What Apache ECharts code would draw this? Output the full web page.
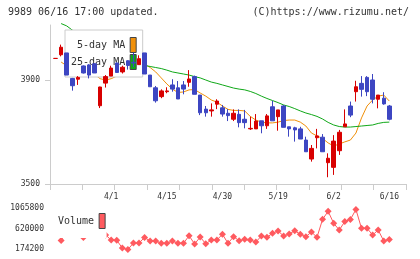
<!DOCTYPE html>
<html>
<head>
<meta charset="utf-8">
<script src="https://cdn.jsdelivr.net/npm/echarts@6/dist/echarts.min.js"></script>
<style>
html, body { margin: 0; padding: 0; background: #fff; }
#chart { width: 420px; height: 259px; }
</style>
</head>
<body>
<div id="chart"></div>
<script>
// trading days shown (3/17 .. 6/16)
var dates = ['3/17','3/18','3/19','3/21','3/24','3/25','3/26','3/27','3/28','3/31',
    '4/1','4/2','4/3','4/4','4/7','4/8','4/9','4/10','4/11','4/14',
    '4/15','4/16','4/17','4/18','4/21','4/22','4/23','4/24','4/25','4/28',
    '4/30','5/1','5/7','5/8','5/9','5/12','5/13','5/14','5/15','5/16',
    '5/19','5/20','5/21','5/22','5/23','5/26','5/27','5/28','5/29','5/30',
    '6/2','6/3','6/4','6/5','6/6','6/9','6/10','6/11','6/12','6/13','6/16'];
var labelDates = ['4/1','4/15','4/30','5/19','6/2','6/16'];

var open  = [3983,3997,4004,3906,3903,3954,3958,3962,3801,3888,
    3915,3965,3931,3974,3968,3959,4004,3919,3870,3836,
    3855,3881,3870,3881,3891,3913,3842,3788,3781,3807,
    3793,3772,3749,3768,3749,3712,3712,3743,3724,3797,
    3759,3800,3720,3716,3712,3669,3596,3678,3680,3582,
    3564,3628,3720,3800,3855,3887,3910,3900,3826,3830,3800];
var close = [3983,4026,3919,3878,3910,3927,3919,3927,3873,3913,
    3946,3929,3949,3956,3965,3982,3923,3874,3820,3858,
    3858,3865,3827,3865,3904,3845,3774,3774,3785,3819,
    3769,3763,3772,3736,3736,3714,3742,3724,3762,3743,
    3785,3718,3712,3708,3673,3624,3637,3685,3624,3599,
    3665,3699,3731,3765,3874,3864,3855,3826,3842,3808,3749];
var low   = [3983,3991,3919,3859,3881,3925,3906,3927,3792,3871,
    3915,3929,3925,3940,3950,3959,3923,3874,3813,3830,
    3849,3855,3827,3845,3874,3845,3765,3759,3759,3788,
    3759,3742,3742,3718,3714,3708,3712,3695,3712,3743,
    3705,3718,3682,3663,3673,3624,3586,3637,3624,3526,
    3535,3612,3720,3757,3817,3836,3838,3810,3791,3805,3745];
var high  = [3983,4036,4004,3908,3915,3956,3961,3965,3874,3919,
    3955,3968,3955,3976,4005,3995,4004,3919,3877,3864,
    3872,3903,3896,3896,3938,3917,3842,3800,3810,3826,
    3804,3788,3787,3787,3785,3759,3769,3743,3769,3820,
    3785,3804,3720,3720,3720,3682,3650,3712,3692,3618,
    3688,3708,3787,3817,3897,3915,3915,3923,3842,3853,3804];

// moving averages ('-' = not drawn)
var ma5 = ['-',3969,3955,3945,3935,3925,3920,3922,3905,3900,
    3905,3915,3925,3935,3945,3955,3961,3948,3931,3908,
    3885,3865,3852,3854,3862,3863,3850,3838,3823,3815,
    3800,3787,3783,3783,3781,3760,3746,3738,3735,3735,
    3738,3744,3746,3746,3738,3723,3696,3685,3675,3658,
    3646,3654,3662,3669,3696,3754,3800,3823,3838,3842,3819];
var ma25 = ['-',4117,4108,4092,4082,4072,4061,4050,4040,4030,
    4020,4010,3999,3988,3977,3966,3956,3952,3948,3944,
    3938,3931,3927,3923,3919,3913,3908,3900,3892,3887,
    3881,3875,3869,3865,3862,3856,3848,3838,3829,3821,
    3813,3804,3798,3790,3781,3773,3767,3760,3750,3737,
    3727,3721,3719,3719,3721,3723,3725,3727,3733,3737,3738];

var volume = ['-',359000,587000,565000,544000,424000,565000,587000,609000,479000,
    370000,363000,196000,163000,305000,305000,424000,348000,348000,298000,
    298000,348000,298000,298000,463000,283000,435000,287000,370000,370000,
    494000,298000,442000,355000,385000,370000,326000,457000,429000,516000,
    566000,457000,500000,572000,494000,442000,544000,429000,820000,994000,
    733000,587000,772000,816000,1033000,624000,624000,479000,587000,348000,381000];

var priceTicks = [3500, 3900];
var volumeTicks = [174200, 620000, 1065800];

var font = 'DejaVu Sans Mono';
var textColor = '#333';
var axisColor = '#cccccc';
var upColor = '#d80000';
var downColor = '#3d46c2';

// one empty slot before and three after the data, as on the original
var cats = [''].concat(dates, ['', '', '']);
function pad(arr) {
    return ['-'].concat(arr, ['-', '-', '-']);
}
var empty = ['-', '-', '-', '-'];
var candles = [empty];
for (var i = 0; i < dates.length; i++) {
    var item = { value: [open[i], close[i], low[i], high[i]] };
    if (i === 0) {
        // flat first day is drawn red
        item.itemStyle = { color: upColor, borderColor: upColor, color0: upColor, borderColor0: upColor };
    }
    candles.push(item);
}
candles.push(empty, empty, empty);

var chart = echarts.init(document.getElementById('chart'));

var option = {
    animation: false,
    backgroundColor: '#fff',
    title: [
        {
            text: '9989 06/16 17:00 updated.',
            left: 8, top: 7, padding: 0,
            textStyle: { fontFamily: font, fontSize: 10, fontWeight: 'normal', color: textColor }
        },
        {
            text: '(C)https://www.rizumu.net/',
            right: 11, top: 7, padding: 0,
            textStyle: { fontFamily: font, fontSize: 10, fontWeight: 'normal', color: textColor }
        }
    ],
    legend: [
        {
            orient: 'vertical',
            left: 65, top: 30,
            padding: [7, 6, 7, 6],
            align: 'right',
            itemWidth: 6, itemHeight: 15, itemGap: 1,
            icon: 'rect',
            backgroundColor: '#fff',
            borderColor: '#cccccc', borderWidth: 1,
            itemStyle: { borderColor: '#444', borderWidth: 1 },
            textStyle: { fontFamily: font, fontSize: 10, color: textColor },
            formatter: function (name) { return name === '5-day MA' ? ' ' + name : name; },
            data: ['5-day MA', '25-day MA'],
            selectedMode: false
        },
        {
            orient: 'vertical',
            left: 52, top: 206,
            padding: [7, 1, 9, 6],
            align: 'right',
            itemWidth: 6, itemHeight: 15,
            icon: 'rect',
            backgroundColor: '#fff',
            itemStyle: { borderColor: '#444', borderWidth: 1 },
            textStyle: { fontFamily: font, fontSize: 10, color: textColor },
            data: ['Volume'],
            selectedMode: false
        }
    ],
    grid: [
        { left: 50, width: 356, top: 25, height: 159 },
        { left: 50, width: 356, top: 208, height: 41 }
    ],
    xAxis: [
        {
            type: 'category', gridIndex: 0, data: cats, boundaryGap: false,
            axisLine: { show: false }, axisTick: { show: false },
            axisLabel: {
                fontFamily: font, fontSize: 8, color: textColor, margin: 9,
                interval: function (idx, val) { return labelDates.indexOf(val) >= 0; }
            }
        },
        {
            // plain ruler for the axis line and its 11 even ticks
            type: 'value', gridIndex: 0, min: 0, max: 11, interval: 1, position: 'bottom',
            axisLine: { lineStyle: { color: axisColor } },
            axisTick: { length: 6, lineStyle: { color: axisColor } },
            axisLabel: { show: false }, splitLine: { show: false }
        },
        {
            type: 'category', gridIndex: 1, data: cats, boundaryGap: false, show: false
        }
    ],
    yAxis: [
        {
            type: 'value', gridIndex: 0, min: 3500, max: 4111.5,
            axisLine: { show: true, lineStyle: { color: axisColor } },
            axisTick: { show: true, length: 5, customValues: priceTicks, lineStyle: { color: axisColor } },
            axisLabel: {
                customValues: priceTicks, fontFamily: font, fontSize: 8, color: textColor, margin: 10,
                formatter: function (v) { return String(v); }
            },
            splitLine: { show: false }
        },
        {
            type: 'value', gridIndex: 1, min: 174200, max: 1065800,
            axisLine: { show: false }, axisTick: { show: false },
            axisLabel: {
                customValues: volumeTicks, fontFamily: font, fontSize: 8, color: textColor, margin: 6,
                formatter: function (v) { return String(v); }
            },
            splitLine: { show: false }
        }
    ],
    series: [
        {
            name: '5-day MA', type: 'line', xAxisIndex: 0, yAxisIndex: 0,
            data: pad(ma5), showSymbol: false, clip: false, z: 2,
            itemStyle: { color: '#f0900a' },
            lineStyle: { color: '#f0900a', width: 1 }
        },
        {
            name: '25-day MA', type: 'line', xAxisIndex: 0, yAxisIndex: 0,
            data: pad(ma25), showSymbol: false, clip: false, z: 2,
            itemStyle: { color: '#10a818' },
            lineStyle: { color: '#10a818', width: 1 }
        },
        {
            name: 'Price', type: 'candlestick', xAxisIndex: 0, yAxisIndex: 0,
            data: candles,
            barWidth: 4, z: 6,
            itemStyle: {
                color: upColor, color0: downColor,
                borderColor: upColor, borderColor0: downColor, borderWidth: 1
            }
        },
        {
            name: 'Volume', type: 'line', xAxisIndex: 2, yAxisIndex: 1,
            data: pad(volume), symbol: 'diamond', symbolSize: 7,
            showSymbol: true, showAllSymbol: true, clip: false, z: 2,
            itemStyle: { color: '#ff5a5f' },
            lineStyle: { color: '#ff5a5f', width: 1 }
        }
    ]
};

chart.setOption(option);
window.onresize = function () {
    chart.resize();
};
</script>
</body>
</html>
